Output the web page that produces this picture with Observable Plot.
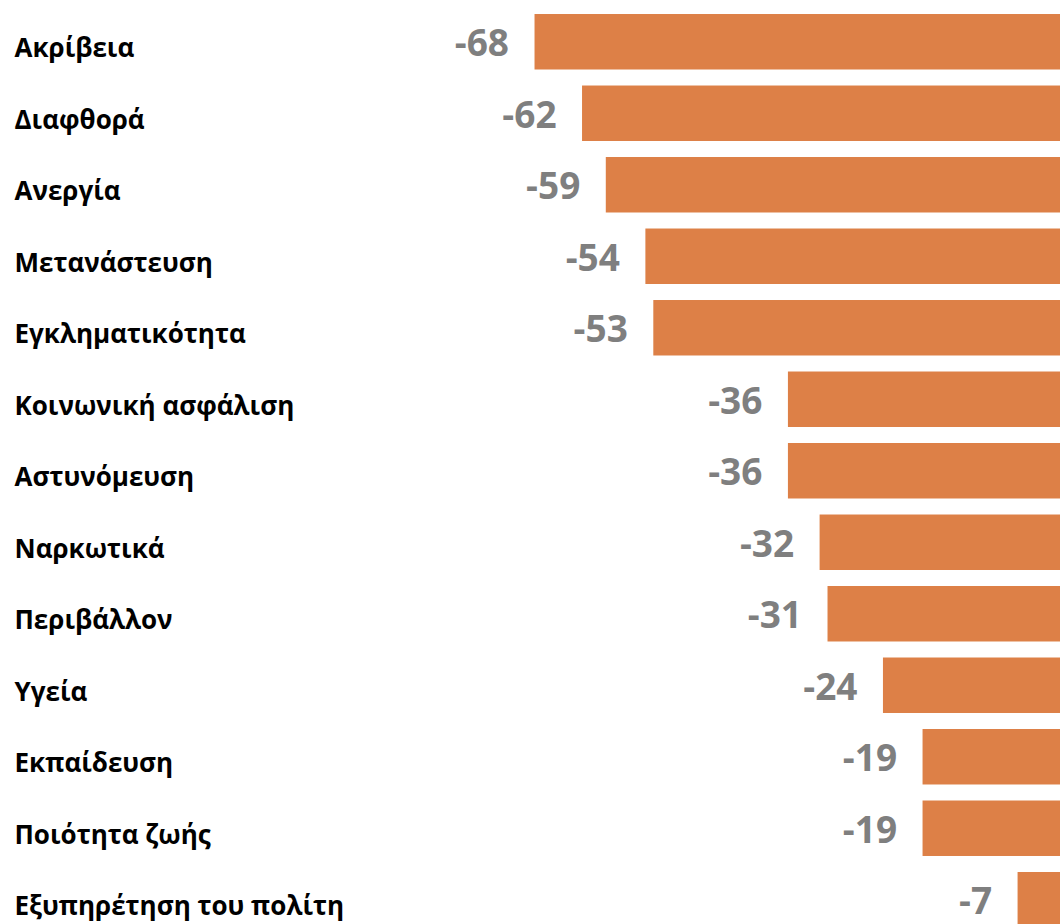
<!DOCTYPE html>
<html>
<head>
<meta charset="utf-8">
<script src="https://cdn.jsdelivr.net/npm/d3@7"></script>
<script src="https://cdn.jsdelivr.net/npm/@observablehq/plot@0.6"></script>
<style>
  html, body { margin: 0; padding: 0; background: #fff; overflow: hidden; }
  #chart svg { display: block; }
</style>
</head>
<body>
<div id="chart"></div>
<script>
const categories = [
  "Ακρίβεια", "Διαφθορά", "Ανεργία", "Μετανάστευση", "Εγκληματικότητα",
  "Κοινωνική ασφάλιση", "Αστυνόμευση", "Ναρκωτικά", "Περιβάλλον", "Υγεία",
  "Εκπαίδευση", "Ποιότητα ζωής", "Εξυπηρέτηση του πολίτη"
];
const values = [-68, -62, -59, -54, -53, -36, -36, -32, -31, -24, -19, -19, -7];

const data = categories.map((c, i) => ({category: c, value: values[i]}));

const chart = Plot.plot({
  width: 1060,
  height: 924,
  margin: 0,
  x: {domain: [-135.5, 0], range: [0, 1073], axis: null},
  y: {domain: categories, range: [-2, 943.5], padding: 0.224, round: false, axis: null},
  style: {background: "#fff"},
  marks: [
    Plot.barX(data, {x: "value", y: "category", fill: "#DD8047", clip: true}),
    Plot.text(data, {
      x: "value", y: "category", text: d => String(d.value),
      textAnchor: "end", dx: -26, dy: 2,
      fill: "#7F7F7F", fontSize: 37, fontWeight: "bold",
      fontFamily: "Open Sans"
    }),
    Plot.text(data, {
      frameAnchor: "left", y: "category", text: "category",
      textAnchor: "start", dx: 14, dy: 6.5,
      fill: "#000", fontSize: 26, fontWeight: "bold",
      fontFamily: "Open Sans"
    })
  ]
});
document.getElementById("chart").appendChild(chart);
</script>
</body>
</html>
